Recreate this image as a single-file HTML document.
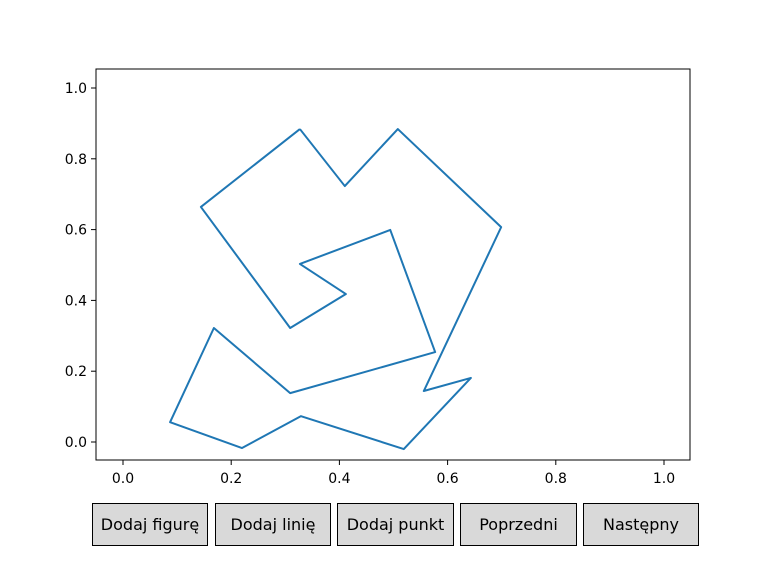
<!DOCTYPE html>
<html><head><meta charset="utf-8"><style>
body{margin:0;background:#fff;width:766px;height:575px;overflow:hidden;font-family:"Liberation Sans","DejaVu Sans",sans-serif}
.btn{position:absolute;top:503px;height:43px;background:#d9d9d9;border:1px solid #000;box-sizing:border-box;display:flex;align-items:center;justify-content:center;font-size:16px;color:#000;font-family:"DejaVu Sans","Liberation Sans",sans-serif}
</style></head><body>
<svg id="chart" width="766" height="500" style="position:absolute;left:0;top:0" font-family="DejaVu Sans, Liberation Sans, sans-serif" font-size="14"></svg>
<div class="btn" style="left:92px;width:116px">Dodaj figurę</div>
<div class="btn" style="left:215px;width:116px">Dodaj linię</div>
<div class="btn" style="left:337px;width:117px">Dodaj punkt</div>
<div class="btn" style="left:460px;width:117px">Poprzedni</div>
<div class="btn" style="left:583px;width:116px">Następny</div>
<script>
const xs=[0.327,0.410,0.508,0.699,0.556,0.643,0.519,0.329,0.220,0.087,0.168,0.309,0.577,0.494,0.327,0.412,0.309,0.144,0.327];
const ys=[0.884,0.723,0.884,0.607,0.144,0.181,-0.020,0.073,-0.017,0.056,0.322,0.138,0.254,0.599,0.503,0.418,0.322,0.664,0.884];
const xTicks=[0,0.2,0.4,0.6,0.8,1.0];
const yTicks=[0,0.2,0.4,0.6,0.8,1.0];
const svg=document.getElementById('chart');
const NS='http://www.w3.org/2000/svg';
const X=v=>123+v*541, Y=v=>442-v*354;
function mk(t,a){const e=document.createElementNS(NS,t);for(const k in a)e.setAttribute(k,a[k]);svg.appendChild(e);return e;}
const frame=mk('rect',{x:96,y:69,width:594,height:391,fill:'none',stroke:'#000','stroke-width':1});


xTicks.forEach(t=>{
 const l=mk('line',{x1:X(t),x2:X(t),y1:460,y2:465,stroke:'#000'});
 
 
 const tx=mk('text',{x:X(t),y:483,'text-anchor':'middle'});tx.textContent=t.toFixed(1);
 
 
});
yTicks.forEach(t=>{
 const l=mk('line',{x1:91,x2:96,y1:Y(t),y2:Y(t),stroke:'#000'});
 
 
 const tx=mk('text',{x:87,y:Y(t)+5,'text-anchor':'end'});tx.textContent=t.toFixed(1);
 
 
});
const pl=mk('polyline',{points:xs.map((x,i)=>X(x)+','+Y(ys[i])).join(' '),fill:'none',stroke:'#1f77b4','stroke-width':2,'stroke-linejoin':'round'});


</script>
</body></html>
